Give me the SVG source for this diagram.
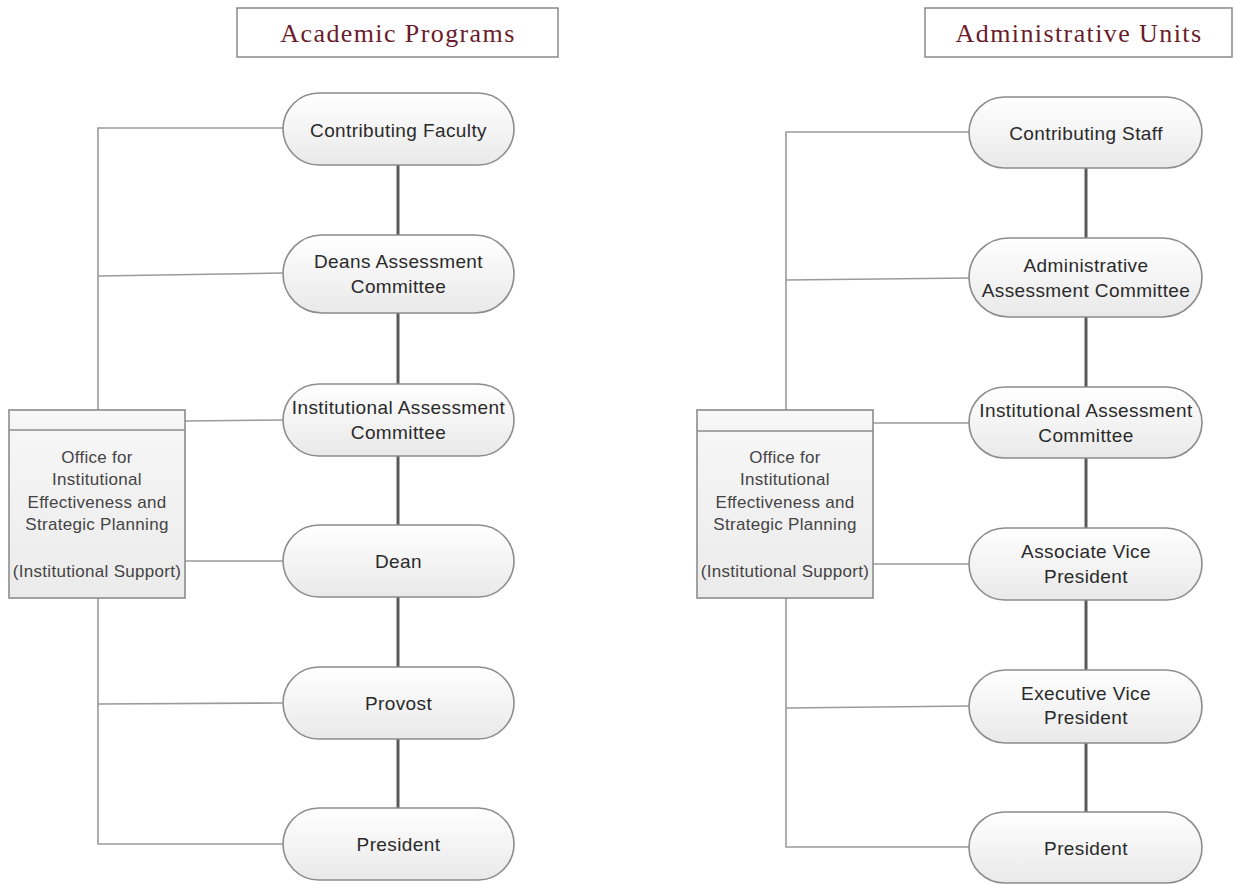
<svg xmlns="http://www.w3.org/2000/svg" width="1234" height="884" viewBox="0 0 1234 884">
<defs>
<linearGradient id="pillGrad" x1="0" y1="0" x2="0" y2="1">
<stop offset="0" stop-color="#ffffff"/>
<stop offset="1" stop-color="#e9e9e9"/>
</linearGradient>
<linearGradient id="boxGrad" x1="0" y1="0" x2="0" y2="1">
<stop offset="0" stop-color="#f7f7f7"/>
<stop offset="1" stop-color="#ebebeb"/>
</linearGradient>
<style>
.title{fill:#fff;stroke:#8a8a8a;stroke-width:1.5}
.ttext{font-family:"Liberation Serif","Times New Roman",serif;font-size:26px;fill:#6b1c2c;text-anchor:middle;letter-spacing:1.4px}
.pill{fill:url(#pillGrad);stroke:#8c8c8c;stroke-width:1.6}
.ntext{font-family:"Liberation Sans",Arial,sans-serif;font-size:19px;fill:#2a2a2a;text-anchor:middle;letter-spacing:0.4px}
.office{fill:url(#boxGrad);stroke:#8c8c8c;stroke-width:1.6}
.otext{font-family:"Liberation Sans",Arial,sans-serif;font-size:17px;fill:#444;text-anchor:middle;letter-spacing:0.3px}
.spine{stroke:#5a5a5a;stroke-width:3;fill:none}
.side{stroke:#9a9a9a;stroke-width:1.6;fill:none}
</style>
</defs>
<rect width="1234" height="884" fill="#fff"/>

<g id="connectors">
<!-- left spine -->
<line class="spine" x1="398" y1="165" x2="398" y2="235"/>
<line class="spine" x1="398" y1="313" x2="398" y2="384"/>
<line class="spine" x1="398" y1="456" x2="398" y2="525"/>
<line class="spine" x1="398" y1="597" x2="398" y2="667"/>
<line class="spine" x1="398" y1="739" x2="398" y2="808"/>
<!-- left side bus -->
<polyline class="side" points="283,128 98,128 98,410"/>
<line class="side" x1="98" y1="276" x2="283" y2="273"/>
<line class="side" x1="185" y1="421" x2="283" y2="420"/>
<line class="side" x1="185" y1="561" x2="283" y2="561"/>
<polyline class="side" points="98,598 98,844 283,844"/>
<line class="side" x1="98" y1="704" x2="283" y2="703"/>
<!-- right spine -->
<line class="spine" x1="1086" y1="167" x2="1086" y2="238"/>
<line class="spine" x1="1086" y1="317" x2="1086" y2="387"/>
<line class="spine" x1="1086" y1="458" x2="1086" y2="528"/>
<line class="spine" x1="1086" y1="600" x2="1086" y2="670"/>
<line class="spine" x1="1086" y1="743" x2="1086" y2="812"/>
<!-- right side bus -->
<polyline class="side" points="970,132 786,132 786,410"/>
<line class="side" x1="786" y1="280" x2="970" y2="278"/>
<line class="side" x1="873" y1="423" x2="970" y2="423"/>
<line class="side" x1="873" y1="564" x2="970" y2="564"/>
<polyline class="side" points="786,598 786,847 970,847"/>
<line class="side" x1="786" y1="708" x2="970" y2="706"/>
</g>

<g id="title-academic">
<rect class="title" x="237" y="8" width="321" height="49"/>
<text class="ttext" x="398" y="42">Academic Programs</text>
</g>
<g id="title-admin">
<rect class="title" x="925" y="8" width="307" height="49"/>
<text class="ttext" x="1079" y="42">Administrative Units</text>
</g>

<g id="a-faculty">
<rect class="pill" x="283" y="93" width="231" height="72" rx="36"/>
<text class="ntext" x="398.5" y="137">Contributing Faculty</text>
</g>
<g id="a-deans">
<rect class="pill" x="283" y="235" width="231" height="78" rx="39"/>
<text class="ntext" x="398.5" y="268">Deans Assessment</text>
<text class="ntext" x="398.5" y="293">Committee</text>
</g>
<g id="a-iac">
<rect class="pill" x="283" y="384" width="231" height="72" rx="36"/>
<text class="ntext" x="398.5" y="414">Institutional Assessment</text>
<text class="ntext" x="398.5" y="439">Committee</text>
</g>
<g id="a-dean">
<rect class="pill" x="283" y="525" width="231" height="72" rx="36"/>
<text class="ntext" x="398.5" y="568">Dean</text>
</g>
<g id="a-provost">
<rect class="pill" x="283" y="667" width="231" height="72" rx="36"/>
<text class="ntext" x="398.5" y="710">Provost</text>
</g>
<g id="a-president">
<rect class="pill" x="283" y="808" width="231" height="72" rx="36"/>
<text class="ntext" x="398.5" y="851">President</text>
</g>
<g id="a-office">
<rect class="office" x="9" y="410" width="176" height="188"/>
<line x1="9" y1="430" x2="185" y2="430" stroke="#8c8c8c" stroke-width="1.6"/>
<text class="otext" x="97" y="463">Office for</text>
<text class="otext" x="97" y="485">Institutional</text>
<text class="otext" x="97" y="508">Effectiveness and</text>
<text class="otext" x="97" y="530">Strategic Planning</text>
<text class="otext" x="97" y="577">(Institutional Support)</text>
</g>

<g id="b-staff">
<rect class="pill" x="969" y="97" width="233" height="71" rx="35.5"/>
<text class="ntext" x="1086" y="140">Contributing Staff</text>
</g>
<g id="b-aac">
<rect class="pill" x="969" y="238" width="233" height="79" rx="39.5"/>
<text class="ntext" x="1086" y="272">Administrative</text>
<text class="ntext" x="1086" y="297">Assessment Committee</text>
</g>
<g id="b-iac">
<rect class="pill" x="969" y="387" width="233" height="71" rx="35.5"/>
<text class="ntext" x="1086" y="417">Institutional Assessment</text>
<text class="ntext" x="1086" y="442">Committee</text>
</g>
<g id="b-avp">
<rect class="pill" x="969" y="528" width="233" height="72" rx="36"/>
<text class="ntext" x="1086" y="558">Associate Vice</text>
<text class="ntext" x="1086" y="583">President</text>
</g>
<g id="b-evp">
<rect class="pill" x="969" y="670" width="233" height="73" rx="36.5"/>
<text class="ntext" x="1086" y="700">Executive Vice</text>
<text class="ntext" x="1086" y="724">President</text>
</g>
<g id="b-president">
<rect class="pill" x="969" y="812" width="233" height="71" rx="35.5"/>
<text class="ntext" x="1086" y="855">President</text>
</g>
<g id="b-office">
<rect class="office" x="697" y="410" width="176" height="188"/>
<line x1="697" y1="431" x2="873" y2="431" stroke="#8c8c8c" stroke-width="1.6"/>
<text class="otext" x="785" y="463">Office for</text>
<text class="otext" x="785" y="485">Institutional</text>
<text class="otext" x="785" y="508">Effectiveness and</text>
<text class="otext" x="785" y="530">Strategic Planning</text>
<text class="otext" x="785" y="577">(Institutional Support)</text>
</g>
</svg>
